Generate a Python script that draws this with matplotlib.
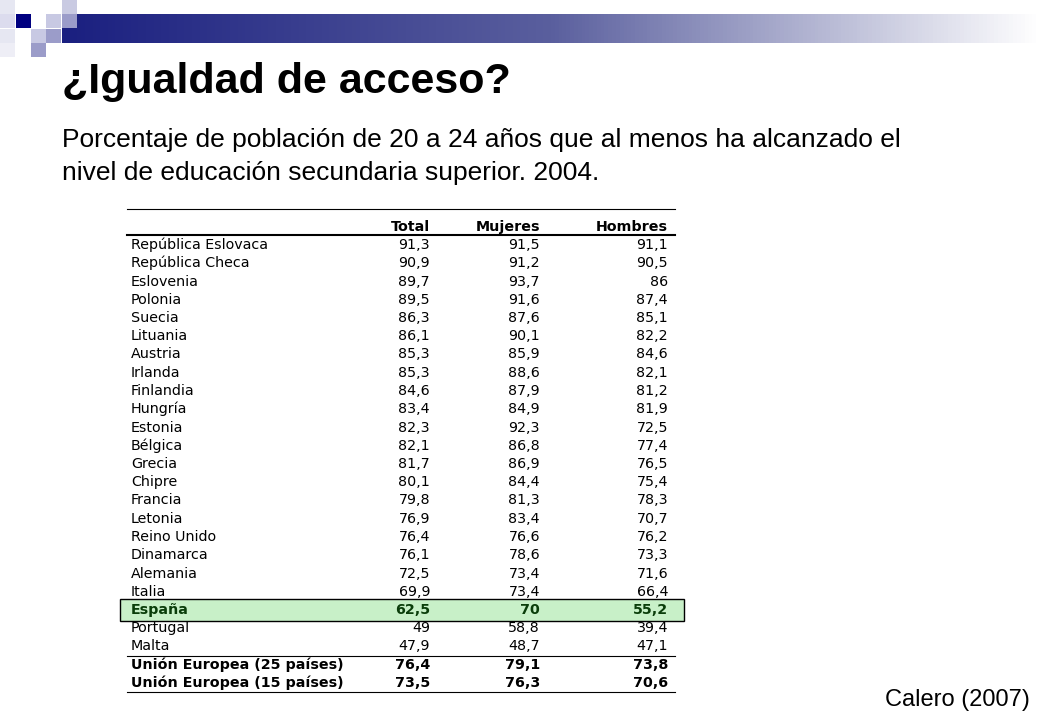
import matplotlib.pyplot as plt
import numpy as np
from matplotlib.patches import Rectangle
from matplotlib.colors import LinearSegmentedColormap

paises = ["República Eslovaca", "República Checa", "Eslovenia", "Polonia", "Suecia",
          "Lituania", "Austria", "Irlanda", "Finlandia", "Hungría", "Estonia", "Bélgica",
          "Grecia", "Chipre", "Francia", "Letonia", "Reino Unido", "Dinamarca", "Alemania",
          "Italia", "España", "Portugal", "Malta",
          "Unión Europea (25 países)", "Unión Europea (15 países)"]
total = [91.3, 90.9, 89.7, 89.5, 86.3, 86.1, 85.3, 85.3, 84.6, 83.4, 82.3, 82.1, 81.7,
         80.1, 79.8, 76.9, 76.4, 76.1, 72.5, 69.9, 62.5, 49, 47.9, 76.4, 73.5]
mujeres = [91.5, 91.2, 93.7, 91.6, 87.6, 90.1, 85.9, 88.6, 87.9, 84.9, 92.3, 86.8, 86.9,
           84.4, 81.3, 83.4, 76.6, 78.6, 73.4, 73.4, 70, 58.8, 48.7, 79.1, 76.3]
hombres = [91.1, 90.5, 86, 87.4, 85.1, 82.2, 84.6, 82.1, 81.2, 81.9, 72.5, 77.4, 76.5,
           75.4, 78.3, 70.7, 76.2, 73.3, 71.6, 66.4, 55.2, 39.4, 47.1, 73.8, 70.6]
columnas = ["Total", "Mujeres", "Hombres"]


def fmt(v):
    s = f"{v:.1f}"
    if s.endswith(".0"):
        s = s[:-2]
    return s.replace(".", ",")


fig = plt.figure(figsize=(10.4, 7.2), dpi=100)
ax = fig.add_axes([0, 0, 1, 1])
ax.set_xlim(0, 1040)
ax.set_ylim(720, 0)
ax.axis("off")

# decoración superior
grad = np.linspace(0, 1, 256).reshape(1, -1)
cmap = LinearSegmentedColormap.from_list("b", ["#1a1f80", "#5a5f9e", "#ffffff"])
ax.imshow(grad, extent=(62, 1040, 43, 14), aspect="auto", cmap=cmap, zorder=1)
sq = [(0, 0, "#e6e7f2"), (62, 0, "#c9cae2"), (0, 14, "#dcdcee"), (16, 14, "#000080"),
      (46, 14, "#c8c9e3"), (62, 14, "#9b9cc9"), (31, 29, "#c8c9e3"), (46, 29, "#9b9cc9"),
      (0, 29, "#e6e7f2"), (31, 43, "#9b9cc9"), (0, 43, "#eeeef6")]
for x, y, c in sq:
    ax.add_patch(Rectangle((x, y), 15, 14, color=c, lw=0, zorder=2))

ax.text(62, 82, "¿Igualdad de acceso?", fontsize=31, fontweight="bold",
        family="Liberation Sans", va="center")
ax.text(62, 140, "Porcentaje de población de 20 a 24 años que al menos ha alcanzado el",
        fontsize=19, family="Liberation Sans", va="center")
ax.text(62, 173, "nivel de educación secundaria superior. 2004.",
        fontsize=19, family="Liberation Sans", va="center")
ax.text(1030, 700, "Calero (2007)", fontsize=17, family="Liberation Sans",
        ha="right", va="center")

# tabla
fs = 10.3
xl, xr = 127, 675
colx = [430, 540, 668]
ax.plot([xl, xr], [209, 209], color="black", lw=0.8)
ax.plot([xl, xr], [235, 235], color="black", lw=1.5)
for cx, c in zip(colx, columnas):
    ax.text(cx, 227, c, fontsize=fs, fontweight="bold", ha="right", va="center")

y0, dy = 245, 18.25
for i, p in enumerate(paises):
    y = y0 + i * dy
    bold = p == "España" or p.startswith("Unión")
    color = "#0a3d0a" if p == "España" else "black"
    if p == "España":
        ax.add_patch(Rectangle((120, y - 11), 564, 22, facecolor="#c8f0c8",
                               edgecolor="black", lw=1, zorder=0))
    ax.text(131, y, p, fontsize=fs, ha="left", va="center", color=color,
            fontweight="bold" if bold else "normal")
    for cx, v in zip(colx, (total[i], mujeres[i], hombres[i])):
        ax.text(cx, y, fmt(v), fontsize=fs, ha="right", va="center", color=color,
                fontweight="bold" if bold else "normal")
ax.plot([xl, xr], [y0 + 22.5 * dy, y0 + 22.5 * dy], color="black", lw=0.8)
ax.plot([xl, xr], [y0 + 24.5 * dy, y0 + 24.5 * dy], color="black", lw=0.8)

fig.savefig("out.png", dpi=100)
